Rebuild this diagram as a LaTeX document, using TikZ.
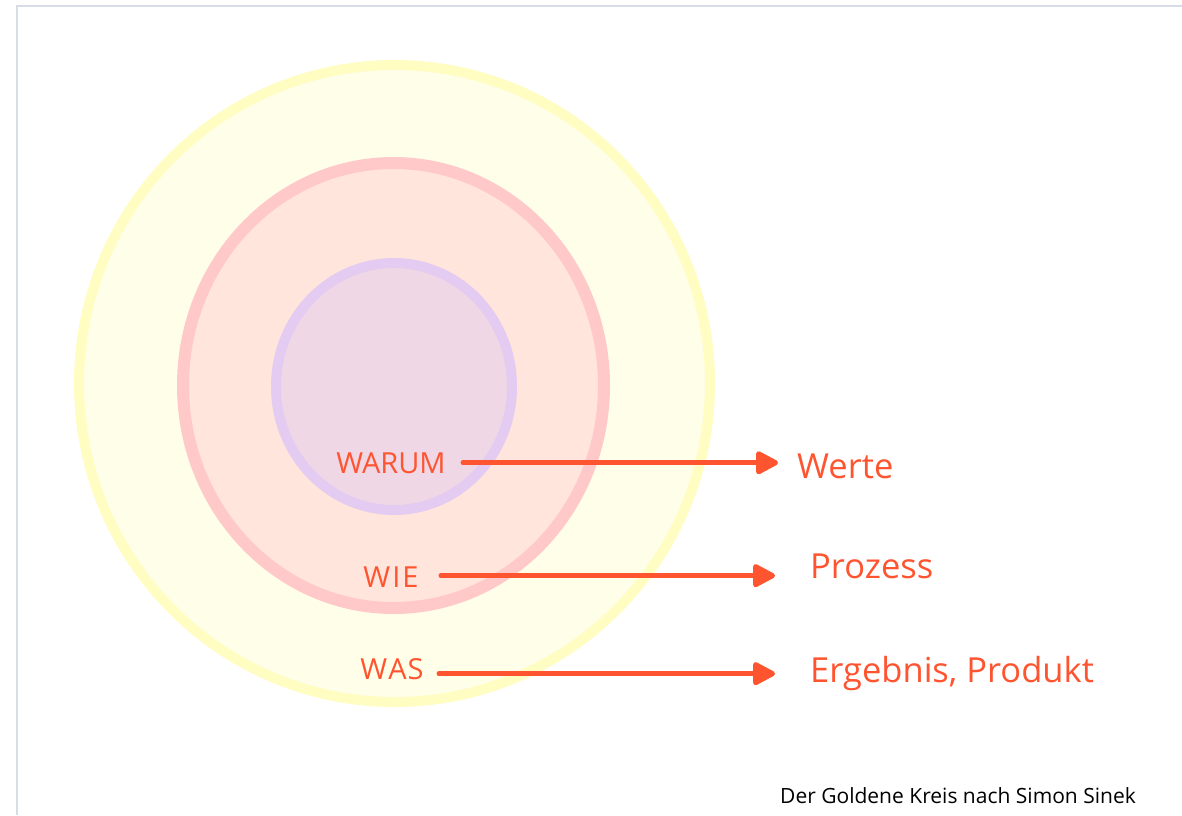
\documentclass[tikz,border=0pt]{standalone}
\usepackage{fontspec}
\setmainfont{Open Sans}
\usetikzlibrary{arrows.meta}
\definecolor{framec}{HTML}{D6DCE8}
\definecolor{ringY}{HTML}{FFFDC2}
\definecolor{fillY}{HTML}{FFFEE8}
\definecolor{ringP}{HTML}{FFC9C9}
\definecolor{fillP}{HTML}{FFE5DB}
\definecolor{ringV}{HTML}{E3CBF1}
\definecolor{fillV}{HTML}{F0D7E5}
\definecolor{accent}{HTML}{FF5430}
\tikzset{
  level/.style={font=\fontsize{29}{32}\selectfont, text=accent, inner sep=0pt, anchor=base},
  meaning/.style={font=\fontsize{34.5}{38}\selectfont, text=accent, inner sep=0pt, anchor=base west},
  pointer/.style={draw=accent, line width=5pt, line cap=round,
    -{Triangle[length=25pt, width=25pt, round]}},
}
\begin{document}
\begin{tikzpicture}[x=1pt, y=-1pt]
  \useasboundingbox[fill=white] (0,0) rectangle (1182,815);
  % page frame
  \draw[framec, line width=2pt] (16.5,815) -- (16.5,5.5) -- (1182,5.5);
  % the three rings
  \draw[ringY, fill=fillY, line width=10pt] (394.5,383.5) ellipse [x radius=315.5, y radius=318.5];
  \draw[ringP, fill=fillP, line width=12pt] (393.5,385.5) ellipse [x radius=210.5, y radius=222.5];
  \draw[ringV, fill=fillV, line width=10pt] (394,386.5) ellipse [x radius=118, y radius=123.5];
  % ring labels
  \node[level] (warum) at (391,473) {WARUM};
  \node[level] (wie)   at (391,587) {W\kern2pt I\kern2pt E};
  \node[level] (was)   at (392,679) {W\kern1pt A\kern1pt S};
  % meanings
  \node[meaning] (werte)    at (797,478) {Werte};
  \node[meaning] (prozess)  at (810,578) {Prozess};
  \node[meaning] (ergebnis) at (810,682) {Ergebnis, Produkt};
  % connectors
  \draw[pointer, shorten <=72pt, shorten >=19pt] (warum.center) -- (warum.center -| werte.west);
  \draw[pointer, shorten <=50pt, shorten >=35pt] ([yshift=1pt]wie.center) -- ([yshift=1pt]wie.center -| prozess.west);
  \draw[pointer, shorten <=47pt, shorten >=35pt] ([yshift=-5pt]was.center) -- ([yshift=-5pt]was.center -| ergebnis.west);
  % caption
  \node[font=\fontsize{21}{24}\selectfont, inner sep=0pt, anchor=base west] (caption) at (780,803) {Der Goldene Kreis nach Simon Sinek};
\end{tikzpicture}
\end{document}
